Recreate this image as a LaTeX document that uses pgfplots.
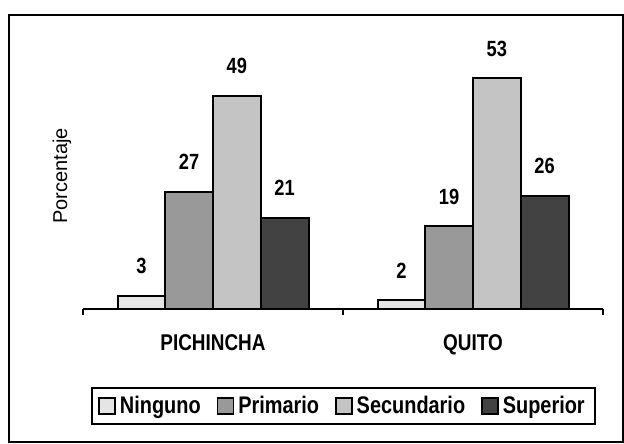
\documentclass[border=0pt]{standalone}
\usepackage{fontspec}
\setmainfont{Liberation Sans}
\newfontfamily\narrow{Liberation Sans}[FakeStretch=0.83]
\usepackage{pgfplots}
\pgfplotsset{compat=1.18}

\definecolor{ninguno}{gray}{0.90}
\definecolor{primario}{gray}{0.60}
\definecolor{secundario}{gray}{0.77}
\definecolor{superior}{gray}{0.26}

\begin{document}
\begin{tikzpicture}
\useasboundingbox (0,0) rectangle (312pt,221.5pt);
% outer chart frame
\draw[line width=1pt] (4.5pt,0.5pt) rectangle (311.5pt,213.75pt);
\node[rotate=90, font=\fontsize{10}{12}\selectfont] at (31pt,133.5pt) {Porcentaje};
\begin{axis}[
  at={(41.5pt,67pt)}, anchor=south west,
  scale only axis, width=260pt, height=130.5pt,
  xmin=-0.5, xmax=1.5, ymin=0, ymax=60,
  axis x line*=bottom, axis y line=none,
  axis line style={line width=1pt},
  ybar=0pt, bar width=23.875pt,
  xtick={-0.5,0.5,1.5}, xticklabels={},
  tick align=outside, major tick length=3pt,
  tick style={line width=1pt, black},
  extra x ticks={0,1}, extra x tick labels={PICHINCHA,QUITO},
  extra x tick style={major tick length=0pt},
  xticklabel style={font=\narrow\bfseries\fontsize{11.4}{13}\selectfont, anchor=base, yshift=-20.5pt},
  /pgf/number format/assume math mode=true,
  nodes near coords,
  nodes near coords style={font=\narrow\bfseries\fontsize{11}{13}\selectfont, anchor=south, inner sep=0pt, yshift=10.5pt},
  clip=false,
  legend columns=4,
  legend style={at={(0.501,-0.3716)}, anchor=center, draw=black, line width=1pt,
    font=\narrow\bfseries\fontsize{12}{14}\selectfont,
    /tikz/every even column/.append style={column sep=6pt}},
  legend image code/.code={\draw[#1, line width=0.8pt] (0pt,-4pt) rectangle (8pt,4pt);},
  every axis plot/.append style={draw=black, line width=1pt},
]
\addplot[fill=ninguno] coordinates {(0,3) (1,2)};
\addplot[fill=primario] coordinates {(0,27) (1,19)};
\addplot[fill=secundario] coordinates {(0,49) (1,53)};
\addplot[fill=superior] coordinates {(0,21) (1,26)};
\legend{Ninguno,Primario,Secundario,Superior}
\end{axis}
\end{tikzpicture}
\end{document}
